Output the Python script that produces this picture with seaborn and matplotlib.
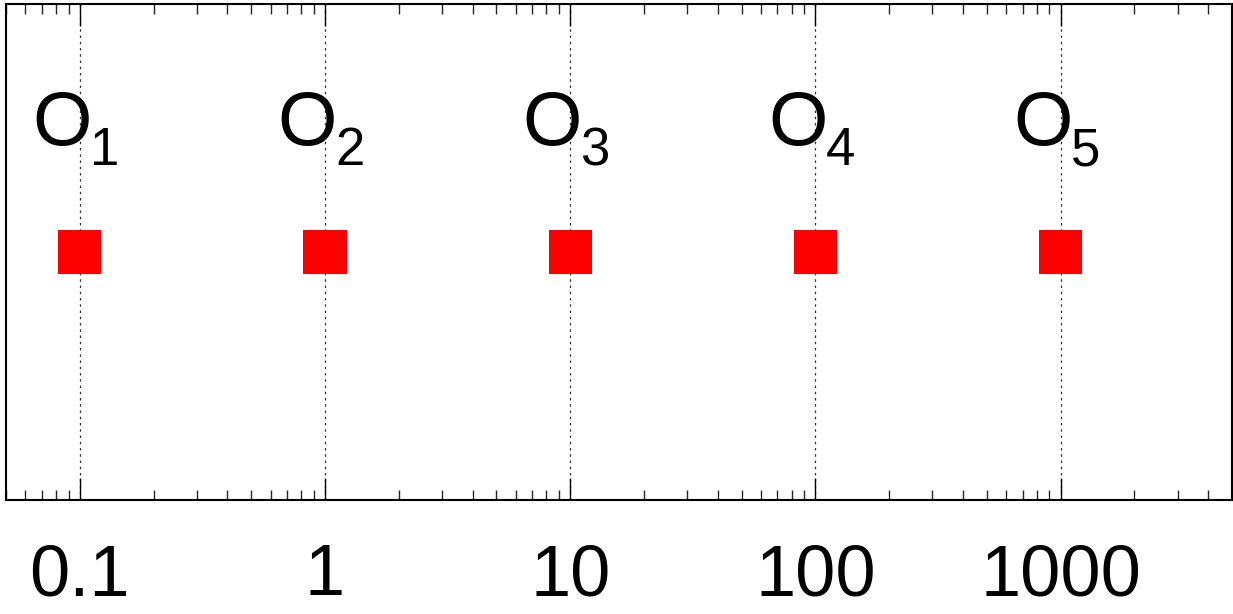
import matplotlib
matplotlib.use("Agg")
import matplotlib.pyplot as plt
import matplotlib.ticker as mticker
import matplotlib.transforms as mtransforms
import seaborn as sns
import pandas as pd
import numpy as np

x_values = [0.1, 1, 10, 100, 1000]
y_values = [0, 0, 0, 0, 0]
label_main = ["O", "O", "O", "O", "O"]
label_sub = ["1", "2", "3", "4", "5"]
tick_values = [0.1, 1, 10, 100, 1000]
tick_labels = ["0.1", "1", "10", "100", "1000"]

sns.set_style("white")
plt.rcParams["font.family"] = ["Liberation Sans", "DejaVu Sans"]

df = pd.DataFrame({"x": x_values, "y": y_values})

fig = plt.figure(figsize=(12.33, 6.14), dpi=100)
ax = fig.add_axes([6 / 1233, (614 - 500) / 614, 1226 / 1233, 496 / 614])

sns.scatterplot(data=df, x="x", y="y", marker="s", s=31 ** 2, color="#ff0000",
                edgecolor="none", linewidth=0, ax=ax, zorder=3)

ax.set_xscale("log")
ax.set_xlim(0.05, 5000)
ax.set_ylim(-1, 1)

ax.xaxis.set_major_locator(mticker.FixedLocator(tick_values))
ax.xaxis.set_major_formatter(mticker.FixedFormatter(tick_labels))
ax.xaxis.set_minor_locator(mticker.LogLocator(base=10, subs=np.arange(2, 10), numticks=20))
ax.xaxis.set_minor_formatter(mticker.NullFormatter())
ax.set_yticks([])

ax.tick_params(axis="x", which="major", direction="in", length=16, width=1.0,
               top=True, bottom=True, labelsize=52, pad=31, colors="black")
ax.tick_params(axis="x", which="minor", direction="in", length=7, width=1.0,
               top=True, bottom=True)

ax.grid(True, axis="x", which="major", linestyle=(0, (2, 3)), color="#333333", linewidth=0.9)
ax.grid(False, axis="y")

for sp in ax.spines.values():
    sp.set_visible(True)
    sp.set_color("black")
    sp.set_linewidth(1.5)

ax.set_xlabel("")
ax.set_ylabel("")

main_tr = mtransforms.offset_copy(ax.transData, fig=fig, x=12, y=0, units="dots")
sub_tr = mtransforms.offset_copy(ax.transData, fig=fig, x=10, y=-20, units="dots")
for xv, m, s in zip(x_values, label_main, label_sub):
    ax.text(xv, 0.431, m, ha="right", va="baseline", fontsize=55, color="black",
            transform=main_tr, zorder=4)
    ax.text(xv, 0.431, s, ha="left", va="baseline", fontsize=38, color="black",
            transform=sub_tr, zorder=4)

fig.savefig("out.png", dpi=100, facecolor="white")
